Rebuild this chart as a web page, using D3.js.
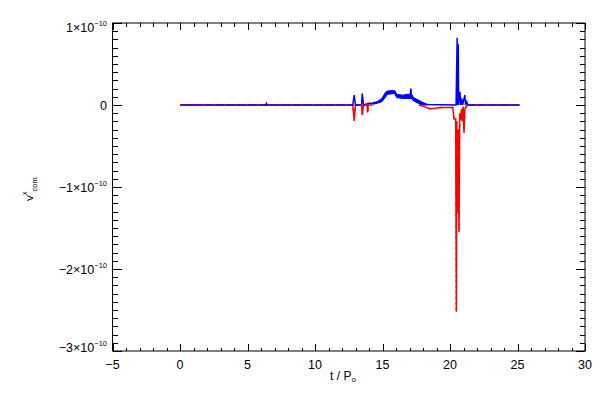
<!DOCTYPE html>
<html><head><meta charset="utf-8">
<script src="https://cdn.jsdelivr.net/npm/d3@7"></script>
<style>
body{margin:0;background:#fff;}
svg{display:block;}
text{font-family:"Liberation Sans","DejaVu Sans",sans-serif;fill:#000;}
</style></head>
<body><svg id="c" width="600" height="400"></svg>
<script>
// ---- data (values of v in units of 1e-10) ----
const xTicks = [-5, 0, 5, 10, 15, 20, 25, 30];
const yTicks = [1, 0, -1, -2, -3];
const yTickLabels = ["1×10", "0", "−1×10", "−2×10", "−3×10"];
const yTickExp = ["−10", "", "−10", "−10", "−10"];

const blueT = [0, 6.35, 6.4, 6.45, 12.8, 12.9, 13.0, 13.45, 13.5, 13.6, 14.0, 14.3, 14.57, 14.94, 15.19, 15.36, 15.6, 15.9, 16.05, 16.5, 16.8, 17.05, 17.1, 17.15, 17.3, 17.65, 18.0, 18.3, 20.45, 20.53, 20.56, 20.61, 20.64, 20.74, 20.8, 20.87, 20.93, 21.1, 21.16, 21.24, 21.33, 25.15];
const blueV = [0, 0, 0.02, 0, 0, 0.12, 0, 0, 0.14, 0, 0.02, 0.02, 0.03, 0.06, 0.12, 0.16, 0.17, 0.165, 0.11, 0.10, 0.11, 0.11, 0.2, 0.11, 0.07, 0.04, 0.02, 0.005, 0, 0.82, 0, 0.74, 0, 0.16, 0, 0.08, 0, 0.12, 0, 0.04, 0, 0];

const humpT  = [14.3, 14.6, 14.95, 15.2, 15.36, 15.9, 16.05, 16.5, 16.8, 17.15, 17.3, 17.65, 18.0, 18.3];
const humpHi = [0.03, 0.04, 0.08, 0.15, 0.17, 0.175, 0.13, 0.12, 0.13, 0.13, 0.09, 0.06, 0.03, 0.01];
const humpLo = [0.01, 0.02, 0.04, 0.09, 0.13, 0.14, 0.09, 0.08, 0.08, 0.08, 0.05, 0.02, 0.0, 0.0];

const redT = [0, 12.8, 12.9, 13.0, 13.45, 13.5, 13.6, 13.85, 13.9, 13.95, 14.3, 16.0, 17.7, 18.1, 18.5, 18.9, 19.3, 19.8, 20.2, 20.3, 20.42, 20.47, 20.5, 20.55, 20.6, 20.67, 20.72, 20.79, 20.85, 20.9, 20.97, 21.04, 21.1, 21.2, 21.3, 25.15];
const redV = [0, 0, -0.19, 0, 0, -0.12, 0, 0, -0.09, 0, 0, null, 0, -0.02, -0.045, -0.04, -0.03, -0.03, -0.03, -0.17, -0.17, -2.52, -0.2, -1.32, -0.3, -1.55, -0.1, -0.18, -0.05, -0.2, -0.02, -0.34, -0.05, -0.02, 0, 0];

// ---- layout ----
const L = 112.5, R = 585, T = 23, B = 351;
const svg = d3.select("#c");
const x = d3.scaleLinear().domain([-5, 30]).range([L, R]);
const y = d3.scaleLinear().domain([-3, 1]).range([B, T]);

// frame
svg.append("rect").attr("x", L).attr("y", T).attr("width", R - L).attr("height", B - T)
  .attr("fill", "none").attr("stroke", "#000").attr("stroke-width", 1);

const xMinor = d3.range(-5, 30.001, 1);
const yMinor = d3.range(-3, 1.0001, 0.1);
const g = svg.append("g").attr("stroke", "#000").attr("stroke-width", 1).attr("shape-rendering", "crispEdges");
xMinor.forEach(v => {
  const major = Math.abs(v % 5) < 1e-9;
  const len = major ? 7 : 3.5;
  const px = Math.round(x(v)) + 0.5;
  g.append("line").attr("x1", px).attr("x2", px).attr("y1", B).attr("y2", B - len);
  g.append("line").attr("x1", px).attr("x2", px).attr("y1", T).attr("y2", T + len);
});
yMinor.forEach(v => {
  const major = Math.abs(Math.round(v) - v) < 1e-6;
  const len = major ? 9.5 : 5;
  const py = Math.round(y(v)) + 0.5;
  g.append("line").attr("y1", py).attr("y2", py).attr("x1", L).attr("x2", L + len);
  g.append("line").attr("y1", py).attr("y2", py).attr("x1", R).attr("x2", R - len);
});

// x tick labels
svg.append("g").selectAll("text").data(xTicks).join("text")
  .attr("x", d => x(d)).attr("y", 369).attr("text-anchor", "middle")
  .attr("font-size", 12.5).text(d => d < 0 ? "−" + Math.abs(d) : d);

// y tick labels
yTicks.forEach((v, i) => {
  let base = y(v) + 4.5;
  if (yTickExp[i]) {
    base = Math.max(base, T + 9.3);
    base = Math.min(base, B + 0.5);
  }
  const t = svg.append("text").attr("x", 107).attr("y", base).attr("text-anchor", "end").attr("font-size", 12.5);
  t.append("tspan").text(yTickLabels[i]);
  if (yTickExp[i]) t.append("tspan").attr("font-size", 7.5).attr("dy", -6).text(yTickExp[i]);
});

// axis titles
const xt = svg.append("text").attr("x", 343).attr("y", 379.5).attr("text-anchor", "middle").attr("font-size", 12);
xt.append("tspan").text("t / P");
xt.append("tspan").attr("font-size", 8).attr("dy", 2).text("o");

const yt = svg.append("text").attr("transform", "translate(33,201) rotate(-90)").attr("font-size", 11.5);
yt.append("tspan").text("v");
yt.append("tspan").attr("font-size", 7.5).attr("dy", -6).text("x");
yt.append("tspan").attr("font-size", 7.5).attr("dy", 10).text("com");

// data
const plot = svg.append("g");
const redData = redT.map((t, i) => ({t, v: redV[i]}));
const blueData = blueT.map((t, i) => ({t, v: blueV[i]}));
const humpData = humpT.map((t, i) => ({t, hi: humpHi[i], lo: humpLo[i]}));
const line = d3.line().defined(d => d.v !== null).x(d => x(d.t)).y(d => y(d.v));

plot.append("path").attr("d", line(redData)).attr("fill", "none").attr("stroke", "#ff0000").attr("stroke-width", 1.5);
plot.append("path").attr("d", d3.area().x(d => x(d.t)).y0(d => y(d.lo)).y1(d => y(d.hi))(humpData))
  .attr("fill", "#0000ff").attr("stroke", "#0000ff").attr("stroke-width", 1);
plot.append("path").attr("d", line(blueData)).attr("fill", "none").attr("stroke", "#0000ff").attr("stroke-width", 1.5);
plot.append("path").attr("d", line(redData)).attr("fill", "none").attr("stroke", "#ff0000").attr("stroke-width", 1.5)
  .attr("stroke-dasharray", "2 9");
</script></body></html>
